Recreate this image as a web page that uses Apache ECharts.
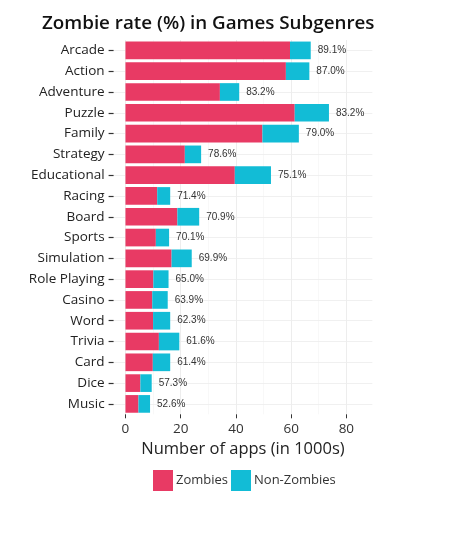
<!DOCTYPE html>
<html><head><meta charset="utf-8">
<script src="https://cdn.jsdelivr.net/npm/echarts@6/dist/echarts.min.js"></script>
<style>html,body{margin:0;padding:0;background:#fff}#c{width:450px;height:559px}</style>
</head><body><div id="c"></div>
<script>
const categories = ["Arcade","Action","Adventure","Puzzle","Family","Strategy","Educational","Racing","Board","Sports","Simulation","Role Playing","Casino","Word","Trivia","Card","Dice","Music"];
const zombies = [59.6,58.1,34.2,61.3,49.6,21.5,39.6,11.5,18.8,11.0,16.7,10.1,9.7,10.0,12.1,9.9,5.4,4.7];
const nonZombies = [7.5,8.5,7.0,12.4,13.2,5.9,13.1,4.7,7.9,4.8,7.3,5.5,5.6,6.2,7.4,6.3,4.1,4.2];
const rates = ["89.1%","87.0%","83.2%","83.2%","79.0%","78.6%","75.1%","71.4%","70.9%","70.1%","69.9%","65.0%","63.9%","62.3%","61.6%","61.4%","57.3%","52.6%"];
const xTicks = [0,20,40,60,80];
const xMinor = [10,30,50,70];

const FONT = "Open Sans";
const cats = categories.slice().reverse();
const z = zombies.slice().reverse();
const nz = nonZombies.slice().reverse();
const r = rates.slice().reverse();

const chart = echarts.init(document.getElementById('c'), null, {renderer:'canvas'});
chart.setOption({
  animation:false,
  backgroundColor:'#fff',
  title:{text:'Zombie rate (%) in Games Subgenres', left:37, top:9,
    textStyle:{fontFamily:FONT, fontWeight:600, fontSize:18.8, color:'#111'}},
  grid:{left:113.6, right:77.7, top:40, bottom:144.7, containLabel:false},
  legend:{data:['Zombies','Non-Zombies'], left:148, top:465, itemWidth:20, itemHeight:21, itemGap:3,
    icon:'rect', textStyle:{fontFamily:FONT, fontSize:13, color:'#333', padding:[0,0,0,-2]}},
  xAxis:{type:'value', min:-4.3, max:89.4,
    name:'Number of apps (in 1000s)', nameLocation:'middle', nameGap:23,
    nameTextStyle:{fontFamily:FONT, fontSize:16.5, color:'#222'},
    axisLine:{show:false},
    axisTick:{show:true, customValues:xTicks, length:4, lineStyle:{color:'#333'}},
    axisLabel:{customValues:xTicks, fontFamily:FONT, fontSize:13.5, color:'#333', margin:8},
    splitLine:{show:false}},
  yAxis:{type:'category', data:cats,
    axisLine:{show:false, onZero:false},
    axisTick:{show:true, alignWithLabel:true, length:5, lineStyle:{color:'#333', width:1.2}},
    axisLabel:{fontFamily:FONT, fontSize:13.5, color:'#222', margin:9}},
  series:[
    {name:'grid', type:'line', data:[], z:0, silent:true,
      markLine:{symbol:'none', silent:true, z:0, label:{show:false}, animation:false,
        data:[].concat(
          xTicks.map(v=>({xAxis:v, lineStyle:{color:'#e8e8e8', width:0.8, type:'solid'}})),
          xMinor.map(v=>({xAxis:v, lineStyle:{color:'#f3f3f3', width:0.6, type:'solid'}})),
          cats.map(c=>({yAxis:c, lineStyle:{color:'#ececec', width:0.8, type:'solid'}}))
        )}},
    {name:'Zombies', type:'bar', stack:'a', data:z, barWidth:'85%', z:5,
      itemStyle:{color:'#E83A64'}},
    {name:'Non-Zombies', type:'bar', stack:'a', data:nz, barWidth:'85%', z:5,
      itemStyle:{color:'#12BCD6'},
      label:{show:true, position:'right', distance:7, fontFamily:'Liberation Sans', fontSize:10, color:'#333',
        formatter:p=>r[p.dataIndex]}}
  ]
});
</script></body></html>
